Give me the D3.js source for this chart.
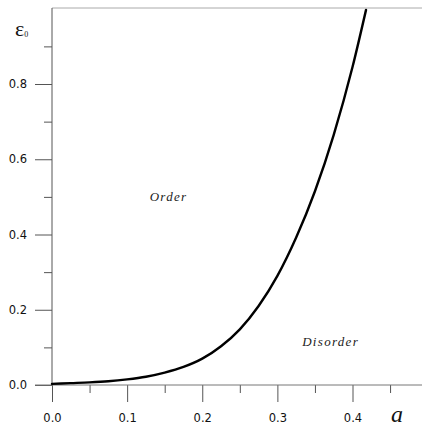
<!DOCTYPE html>
<html>
<head>
<meta charset="utf-8">
<script src="https://cdn.jsdelivr.net/npm/d3@7"></script>
<style>
  html, body { margin: 0; padding: 0; background: #fff; }
  svg { display: block; }
</style>
</head>
<body>
<svg id="chart" width="422" height="426"></svg>
<script>
// Phase boundary eps0(a): order above the curve, disorder below
const aValues   = [0, 0.025, 0.05, 0.075, 0.1, 0.125, 0.15, 0.175, 0.2, 0.225, 0.25, 0.275, 0.3, 0.325, 0.35, 0.375, 0.4, 0.418];
const epsValues = [0.003, 0.005, 0.007, 0.010, 0.015, 0.022, 0.033, 0.048, 0.070, 0.103, 0.148, 0.210, 0.290, 0.392, 0.515, 0.665, 0.845, 0.997];

const xMajorTicks = [0, 0.1, 0.2, 0.3, 0.4];
const xMinorTicks = [0.05, 0.15, 0.25, 0.35, 0.45];
const yMajorTicks = [0, 0.2, 0.4, 0.6, 0.8];
const yMinorTicks = [0.1, 0.3, 0.5, 0.7, 0.9];

const regionLabels = [
  { text: "Order",    a: 0.13,  eps: 0.49 },
  { text: "Disorder", a: 0.333, eps: 0.104 }
];

const svg = d3.select("#chart");

const x = d3.scaleLinear().domain([0, 0.4925]).range([52, 422]);
const y = d3.scaleLinear().domain([0, 1.002]).range([385, 8]);

const tickFont = "'DejaVu Sans', Verdana, sans-serif";

// top frame line
svg.append("line")
  .attr("x1", x(0)).attr("x2", x(0.4925))
  .attr("y1", y(1.002)).attr("y2", y(1.002))
  .attr("stroke", "#aaa").attr("stroke-width", 1);

// x axis: major ticks with labels, minor ticks without
const xMajor = svg.append("g")
  .attr("transform", `translate(0,${y(0)})`)
  .call(d3.axisBottom(x).tickValues(xMajorTicks).tickFormat(d3.format(".1f"))
    .tickSize(17).tickPadding(12).tickSizeOuter(0));
const xMinor = svg.append("g")
  .attr("transform", `translate(0,${y(0)})`)
  .call(d3.axisBottom(x).tickValues(xMinorTicks).tickFormat("")
    .tickSize(8).tickSizeOuter(0));

// y axis
const yMajor = svg.append("g")
  .attr("transform", `translate(${x(0)},0)`)
  .call(d3.axisLeft(y).tickValues(yMajorTicks).tickFormat(d3.format(".1f"))
    .tickSize(17).tickPadding(8).tickSizeOuter(0));
const yMinor = svg.append("g")
  .attr("transform", `translate(${x(0)},0)`)
  .call(d3.axisLeft(y).tickValues(yMinorTicks).tickFormat("")
    .tickSize(8).tickSizeOuter(0));

[xMajor, xMinor, yMajor, yMinor].forEach(g => {
  g.select(".domain").remove();
  g.selectAll(".tick line").attr("stroke", "#555").attr("stroke-width", 1);
  g.selectAll(".tick text")
    .attr("fill", "#111")
    .style("font-family", tickFont)
    .style("font-size", "11.5px");
});

// axis lines
svg.append("line")
  .attr("x1", 35).attr("x2", x(0.4925))
  .attr("y1", y(0)).attr("y2", y(0))
  .attr("stroke", "#777").attr("stroke-width", 1);
svg.append("line")
  .attr("x1", x(0)).attr("x2", x(0))
  .attr("y1", y(0)).attr("y2", y(1.002))
  .attr("stroke", "#555").attr("stroke-width", 1);

// boundary curve
const line = d3.line()
  .x((d, i) => x(aValues[i]))
  .y(d => y(d))
  .curve(d3.curveMonotoneX);

svg.append("path")
  .datum(epsValues)
  .attr("d", line)
  .attr("fill", "none")
  .attr("stroke", "#000")
  .attr("stroke-width", 2.4)
  .attr("stroke-linecap", "round");

// region labels
svg.selectAll("text.region")
  .data(regionLabels)
  .enter().append("text")
  .attr("class", "region")
  .attr("x", d => x(d.a))
  .attr("y", d => y(d.eps))
  .attr("fill", "#222")
  .style("font-family", "'Liberation Serif', 'Times New Roman', serif")
  .style("font-style", "italic")
  .style("font-size", "13px")
  .style("letter-spacing", "1.3px")
  .text(d => d.text);

// axis titles
svg.append("text")
  .attr("x", 391).attr("y", 422)
  .style("font-family", "'Liberation Serif', 'Times New Roman', serif")
  .style("font-style", "italic")
  .style("font-size", "24px")
  .attr("fill", "#111")
  .text("a");

const yTitle = svg.append("text")
  .attr("x", 15).attr("y", 36)
  .style("font-family", "'Liberation Serif', 'Times New Roman', serif")
  .style("font-size", "22px")
  .attr("fill", "#111");
yTitle.append("tspan").text("ε");
yTitle.append("tspan")
  .attr("dy", 1)
  .style("font-size", "8px")
  .text("0");
</script>
</body>
</html>
